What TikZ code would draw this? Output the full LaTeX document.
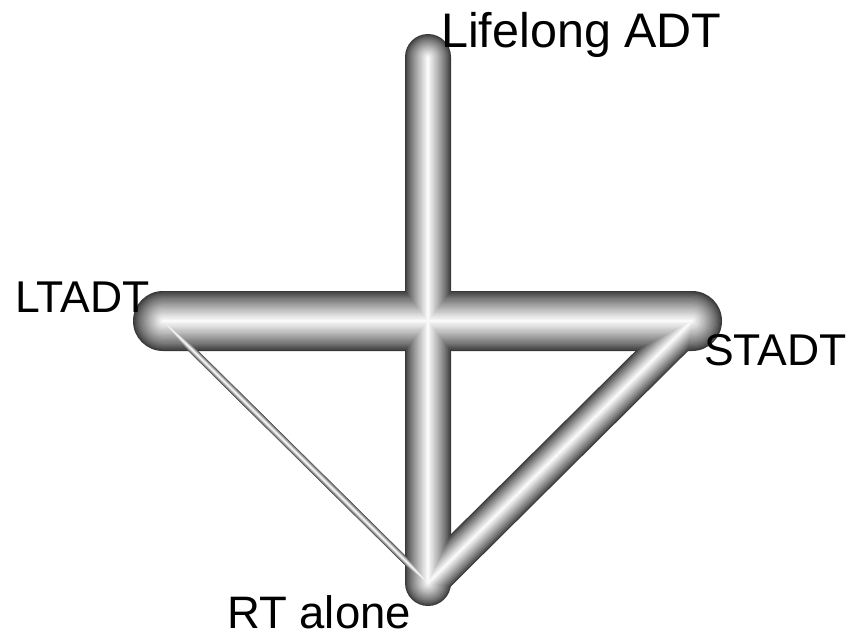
\documentclass[tikz,border=0pt]{standalone}
\usepackage{fontspec}
\setmainfont{Liberation Sans}
\tikzset{
  lbl/.style={inner sep=0pt, anchor=base west, font=\fontsize{44.5}{50}\selectfont},
  biglbl/.style={lbl, font=\fontsize{48.5}{54}\selectfont}
}
\newcommand{\tubeline}[3]{%
  \foreach \k in {0,...,24}{%
    \pgfmathsetmacro\tw{#1*(1-\k/25)}%
    \pgfmathtruncatemacro\tc{22+76*(\k/24)^0.8}%
    \draw[line width=\tw pt, color=white!\tc!black, line cap=round, blend mode=lighten] (#2) -- (#3);
  }%
}
\begin{document}
\begin{tikzpicture}[x=1pt,y=-1pt]
\useasboundingbox (0,0) rectangle (858,637);
\fill[white] (0,0) rectangle (858,637);
\coordinate (LA) at (428,57);
\coordinate (LT) at (163,321);
\coordinate (ST) at (692,321);
\coordinate (RT) at (428,583);
\begin{scope}[transparency group]
  \tubeline{7}{LT}{RT}
  \tubeline{37}{ST}{RT}
  \tubeline{60}{LT}{ST}
  \tubeline{46}{LA}{RT}
\end{scope}
\node[biglbl] (tLA) at (441,47) {Lifelong ADT};
\node[lbl] (tLT) at (15,312) {LTADT};
\node[lbl] (tST) at (704,365) {STADT};
\node[lbl, font=\fontsize{45.5}{50}\selectfont] (tRT) at (227,628) {RT alone};
\end{tikzpicture}
\end{document}
